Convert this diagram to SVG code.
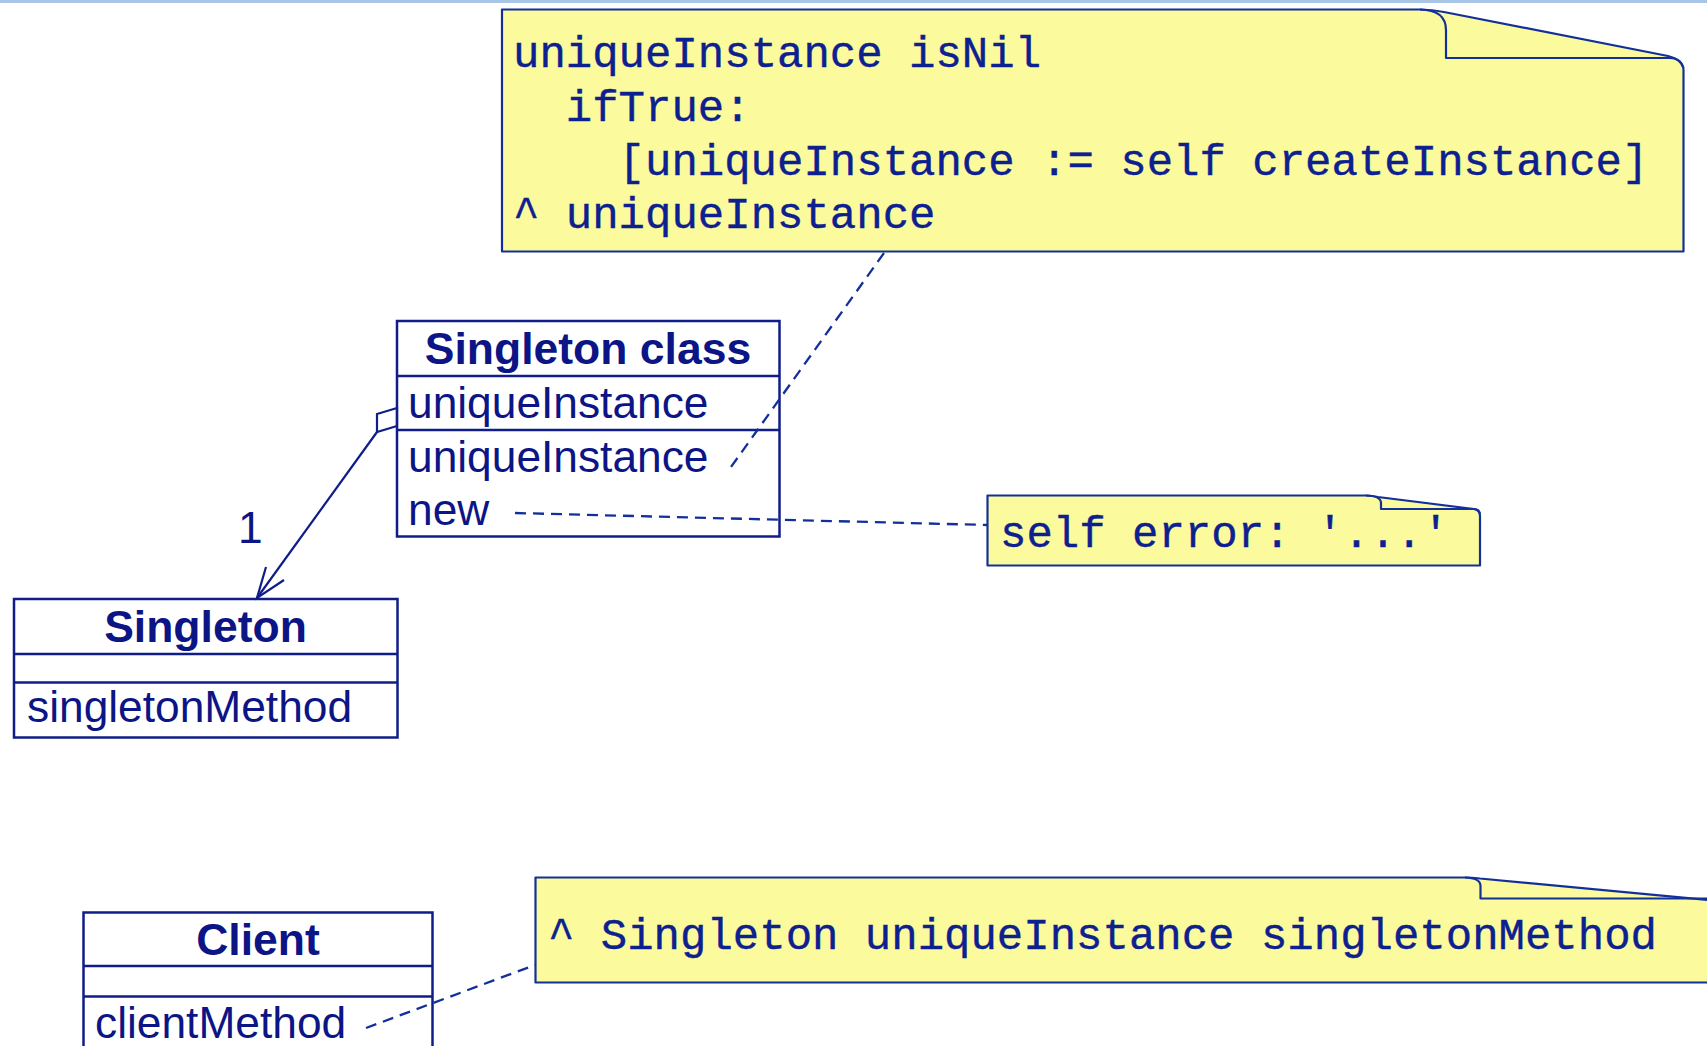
<svg xmlns="http://www.w3.org/2000/svg" width="1707" height="1046" viewBox="0 0 1707 1046">
  <style>
    .box { fill: #ffffff; stroke: #101c88; stroke-width: 2.5; }
    .div { stroke: #101c88; stroke-width: 2.5; fill: none; }
    .title { font-family: "Liberation Sans", Arial, sans-serif; font-weight: bold; font-size: 44.5px; fill: #0c1585; text-anchor: middle; }
    .member { font-family: "Liberation Sans", Arial, sans-serif; font-size: 44.3px; fill: #0c1585; }
    .note { fill: #fbfb9d; stroke: #13309a; stroke-width: 2.2; stroke-linejoin: round; }
    .fold { fill: none; stroke: #13309a; stroke-width: 2.2; stroke-linejoin: round; }
    .code { font-family: "Liberation Mono", "Courier New", monospace; font-size: 44px; fill: #0d2090; stroke: #0d2090; stroke-width: 0.4; }
    .dash { fill: none; stroke: #13309a; stroke-width: 2.3; stroke-dasharray: 11 7; }
    .assoc { fill: none; stroke: #101c88; stroke-width: 2.2; }
  </style>

  <!-- header rule -->
  <rect x="0" y="0" width="1707" height="3" fill="#a9c6e6"/>

  <!-- method note: uniqueInstance -->
  <g id="note-uniqueInstance">
    <path class="note" d="M502,9.5 H1420 Q1432,9.5 1444,12 L1668,56 Q1683.5,60 1683.5,70 V251.5 H502 Z"/>
    <path class="fold" d="M1420,9.5 Q1446,10 1446,30 V58 H1670 Q1680,58 1683.5,68"/>
    <text class="code" x="513" y="67">uniqueInstance isNil</text>
    <text class="code" x="565.8" y="121">ifTrue:</text>
    <text class="code" x="618.6" y="174.5">[uniqueInstance := self createInstance]</text>
    <text class="code" x="513" y="228">^ uniqueInstance</text>
  </g>

  <!-- Singleton class -->
  <g id="singleton-class">
    <rect class="box" x="397" y="321" width="382.5" height="215.5"/>
    <line class="div" x1="397" y1="376" x2="779.5" y2="376"/>
    <line class="div" x1="397" y1="430" x2="779.5" y2="430"/>
    <text class="title" x="588" y="364">Singleton class</text>
    <text class="member" x="408" y="418">uniqueInstance</text>
    <text class="member" x="408" y="471.5">uniqueInstance</text>
    <text class="member" x="408" y="525">new</text>
  </g>

  <!-- method note: new -->
  <g id="note-new">
    <path class="note" d="M987.5,495.5 H1366 Q1372,495.5 1378,497 L1474,509 Q1480,510 1480,516 V565.5 H987.5 Z"/>
    <path class="fold" d="M1366,495.5 Q1381,496 1381,503 V509 H1474 Q1479,509 1480,514"/>
    <text class="code" x="1000" y="547">self error: '...'</text>
  </g>

  <!-- Singleton -->
  <g id="singleton">
    <rect class="box" x="14" y="599" width="383.5" height="138.5"/>
    <line class="div" x1="14" y1="654" x2="397.5" y2="654"/>
    <line class="div" x1="14" y1="682.5" x2="397.5" y2="682.5"/>
    <text class="title" x="205.5" y="641.5">Singleton</text>
    <text class="member" x="27" y="721.5">singletonMethod</text>
  </g>

  <!-- Client -->
  <g id="client">
    <rect class="box" x="83.5" y="912.5" width="349" height="150"/>
    <line class="div" x1="83.5" y1="966" x2="432.5" y2="966"/>
    <line class="div" x1="83.5" y1="996.5" x2="432.5" y2="996.5"/>
    <text class="title" x="258" y="955">Client</text>
    <text class="member" x="95" y="1038">clientMethod</text>
  </g>

  <!-- method note: clientMethod -->
  <g id="note-clientMethod">
    <path class="note" d="M535.5,877.5 H1465 Q1472,877.5 1480,878.5 L1708,900 Q1716,902 1716,910 V982.5 H535.5 Z"/>
    <path class="fold" d="M1465,877.5 Q1480.5,878 1480.5,886 V898.5 H1708"/>
    <text class="code" x="548" y="949">^ Singleton uniqueInstance singletonMethod</text>
  </g>

  <!-- connectors, drawn over the class boxes -->
  <g id="connectors">
    <line class="dash" x1="884" y1="253" x2="731" y2="467"/>
    <line class="dash" x1="515" y1="513" x2="987" y2="525"/>
    <line class="dash" x1="366" y1="1028" x2="535" y2="965"/>
    <!-- aggregation from Singleton class to Singleton -->
    <polygon class="assoc" fill="#ffffff" points="397,408 377,414 377,432 397,426"/>
    <line class="assoc" x1="377" y1="432" x2="257" y2="598"/>
    <polyline class="assoc" points="266,567 257,598 284,580"/>
    <text class="member" x="238" y="543">1</text>
  </g>
</svg>
